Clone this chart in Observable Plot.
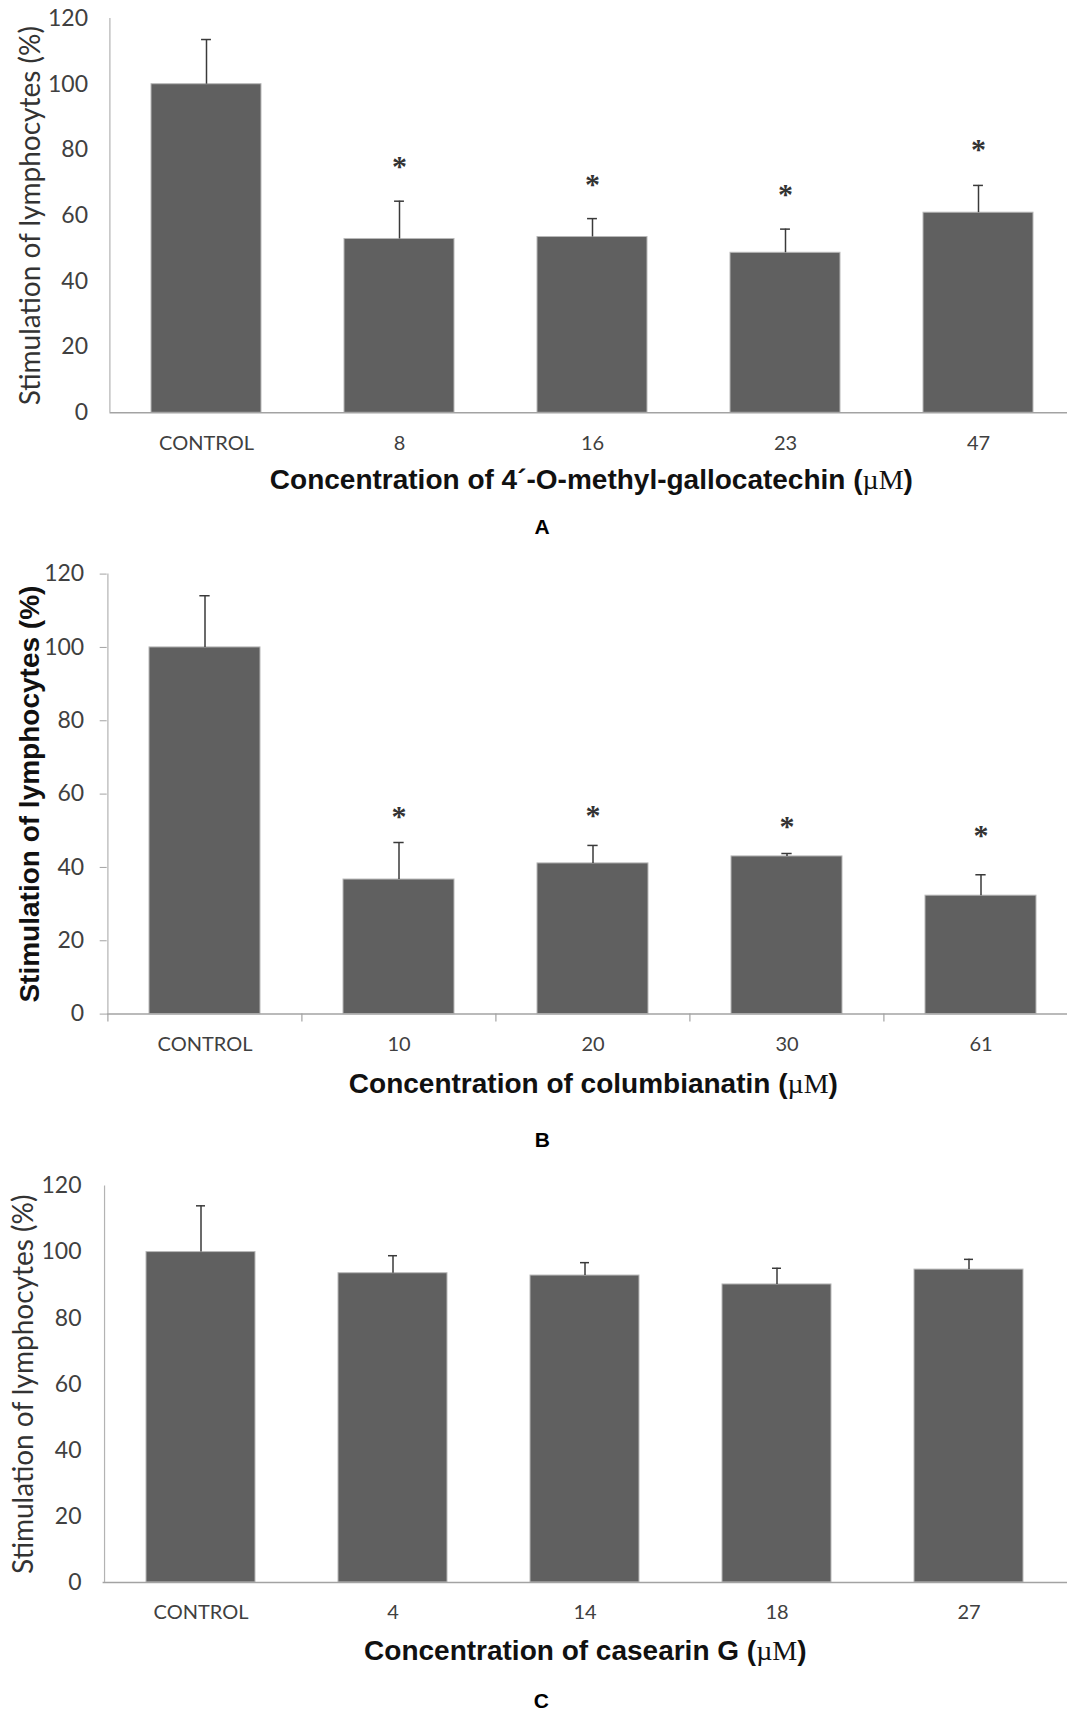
<!DOCTYPE html>
<html>
<head>
<meta charset="utf-8">
<script src="https://cdn.jsdelivr.net/npm/d3@7"></script>
<script src="https://cdn.jsdelivr.net/npm/@observablehq/plot@0.6"></script>
<style>
  html, body { margin: 0; padding: 0; background: #fff; }
  #chart svg { display: block; }
</style>
</head>
<body>
<div id="chart"></div>
<script>
// ---------- data ----------
const yTicks = [0, 20, 40, 60, 80, 100, 120];
const yTitle = "Stimulation of lymphocytes (%)";

const catsA = ["CONTROL", "8", "16", "23", "47"];
const meanA = [100, 52.9, 53.5, 48.7, 60.9];
const errA  = [13.6, 11.5, 5.6, 7.2, 8.3];
const starA = [null, 75.0, 69.5, 66.6, 80.3];
const xTitleA = "Concentration of 4´-O-methyl-gallocatechin";
const letterA = "A";

const catsB = ["CONTROL", "10", "20", "30", "61"];
const meanB = [100, 36.7, 41.1, 43.0, 32.3];
const errB  = [14.1, 10.1, 4.9, 0.8, 5.7];
const starB = [null, 53.8, 54.3, 51.1, 48.7];
const xTitleB = "Concentration of columbianatin";
const letterB = "B";

const catsC = ["CONTROL", "4", "14", "18", "27"];
const meanC = [100, 93.6, 92.9, 90.2, 94.7];
const errC  = [14.0, 5.3, 3.9, 4.9, 3.1];
const xTitleC = "Concentration of casearin G";
const letterC = "C";
const unit = "µM";

// ---------- drawing ----------
function panel(cfg) {
  const {cats, mean, err, star} = cfg;
  const rows = cats.map((c, i) => ({
    cat: c, mean: mean[i], upper: mean[i] + err[i], star: star ? star[i] : null
  }));
  const n = cats.length;
  const padIn = 0.43;
  const step = (cfg.x1 - cfg.x0) / n;
  const bw = step * (1 - padIn);
  const capInset = (bw - 10) / 2;
  const frameH = cfg.height - cfg.mt - cfg.mb;
  const pxPerUnit = frameH / 120;

  const marks = [
    Plot.barY(rows, {x: "cat", y: "mean", fill: "#606060", stroke: "#b8b8b8", strokeWidth: 1}),
    Plot.ruleY([0], {stroke: "#a3a3a3", strokeWidth: 1.5}),
    Plot.ruleX([cats[0]], {x: d => d, dx: -step / 2, y1: 0, y2: 120, stroke: "#b3b3b3", strokeWidth: 1.2}),
    Plot.ruleX(rows, {x: "cat", y1: "mean", y2: "upper", stroke: "#3a3a3a", strokeWidth: 1.5}),
    Plot.tickY(rows, {x: "cat", y: "upper", insetLeft: capInset, insetRight: capInset, stroke: "#3a3a3a", strokeWidth: 1.5}),
    Plot.axisY({ticks: yTicks, tickSize: cfg.yts, tickPadding: cfg.ytp, fontSize: 23, fontFamily: "Lato",
      fill: "#404040", stroke: "#a3a3a3", label: null, tickFormat: d => String(d)}),
    Plot.axisX({tickSize: 0, tickPadding: cfg.xtp, fontSize: 20, fontFamily: "Lato", fill: "#404040", label: null}),
    Plot.text([yTitle], {frameAnchor: "left", textAnchor: "middle", lineAnchor: "middle", rotate: -90,
      dx: cfg.ytx, fontSize: cfg.ytSize, fontFamily: cfg.ytFont, fontWeight: cfg.ytWeight, fill: cfg.ytColor}),
    Plot.text([cfg.xTitle], {frameAnchor: "bottom", textAnchor: "middle", lineAnchor: "middle",
      dx: cfg.xtdx, dy: cfg.xtdy, fontSize: 28,
      fontFamily: "Liberation Sans", fontWeight: "bold", fill: "#111"}),
    Plot.text([cfg.letter], {frameAnchor: "bottom", textAnchor: "middle", lineAnchor: "middle",
      dx: cfg.ldx, dy: cfg.ldy, fontSize: 21,
      fontFamily: "Liberation Sans", fontWeight: "bold", fill: "#000"})
  ];
  if (star) {
    marks.push(Plot.text(rows.filter(d => d.star != null), {x: "cat", y: "star", text: () => "*",
      fontSize: 30, fontFamily: "Liberation Serif", fontWeight: "bold", fill: "#333", dy: 0}));
  }
  if (cfg.betweenTicks) {
    marks.push(Plot.ruleX(cats, {x: d => d, dx: -step / 2, y1: 0, y2: -8 / pxPerUnit, stroke: "#a3a3a3", strokeWidth: 1.2}));
  }

  const svg = Plot.plot({
    width: 1067,
    height: cfg.height,
    marginLeft: cfg.x0,
    marginRight: 0,
    marginTop: cfg.mt,
    marginBottom: cfg.mb,
    style: {fontFamily: "Lato", background: "#fff", overflow: "visible"},
    x: {domain: cats, range: [cfg.x0, cfg.x1], paddingInner: padIn, paddingOuter: padIn / 2},
    y: {domain: [0, 120]},
    marks
  });

  // axis-title unit in a serif face, as in the original
  svg.querySelectorAll("text").forEach(t => {
    if (t.textContent === cfg.xTitle) {
      t.textContent = cfg.xTitle + " (";
      const ts = document.createElementNS("http://www.w3.org/2000/svg", "tspan");
      ts.setAttribute("font-family", "Liberation Serif");
      ts.setAttribute("font-weight", "normal");
      ts.textContent = unit;
      t.appendChild(ts);
      t.appendChild(document.createTextNode(")"));
    }
  });
  return svg;
}

const chart = document.getElementById("chart");
chart.appendChild(panel({
  cats: catsA, mean: meanA, err: errA, star: starA, xTitle: xTitleA, letter: letterA,
  height: 560, mt: 18, mb: 147.7, x0: 109.5, x1: 1075.5,
  yts: 0, ytp: 22, xtp: 23, ytx: -78.5, ytSize: 28, ytFont: "Lato", ytWeight: "normal", ytColor: "#333",
  xtdx: 2.6, xtdy: 67.7, ldx: -46.7, ldy: 114
}));
chart.appendChild(panel({
  cats: catsB, mean: meanB, err: errB, star: starB, xTitle: xTitleB, letter: letterB,
  height: 610, mt: 13.6, mb: 156.4, x0: 106.7, x1: 1077.7, betweenTicks: true,
  yts: 7, ytp: 16, xtp: 22.5, ytx: -77.4, ytSize: 28, ytFont: "Liberation Sans", ytWeight: "bold", ytColor: "#111",
  xtdx: 6, xtdy: 70.4, ldx: -45, ldy: 126.4
}));
chart.appendChild(panel({
  cats: catsC, mean: meanC, err: errC, star: null, xTitle: xTitleC, letter: letterC,
  height: 544, mt: 15.5, mb: 132, x0: 102.6, x1: 1067.1,
  yts: 0, ytp: 21.6, xtp: 22, ytx: -78.6, ytSize: 28, ytFont: "Lato", ytWeight: "normal", ytColor: "#333",
  xtdx: 0, xtdy: 68.6, ldx: -44, ldy: 119
}));
</script>
</body>
</html>
